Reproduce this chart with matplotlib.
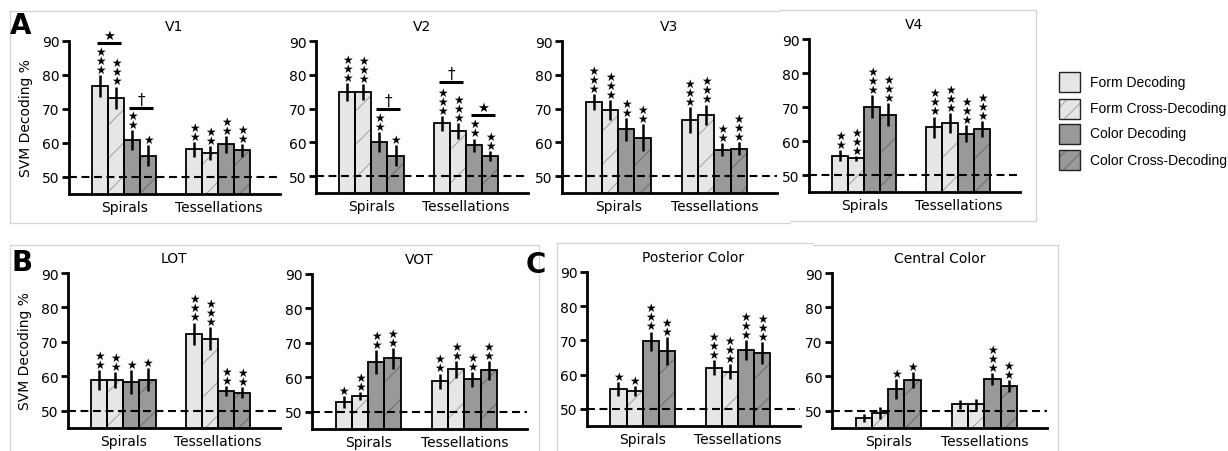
import numpy as np
import matplotlib.pyplot as plt
from matplotlib.lines import Line2D
from matplotlib.patches import Rectangle

plt.rcParams['font.family'] = 'DejaVu Sans'
plt.rcParams['hatch.linewidth'] = 0.8

W, H = 1228, 452

groups = ['Spirals', 'Tessellations']
conditions = ['Form Decoding', 'Form Cross-Decoding', 'Color Decoding', 'Color Cross-Decoding']

# order: spirals (form, form cross, color, color cross), tessellations (same)
v1_mean = [76.8, 73.3, 60.9, 56.3, 58.1, 57.1, 59.6, 57.8]
v1_err = [3.3, 3.3, 3.0, 3.0, 2.2, 2.0, 2.5, 1.8]
v1_stars = [3, 3, 2, 1, 2, 2, 2, 2]

v2_mean = [74.9, 74.9, 60.0, 56.1, 65.6, 63.4, 59.1, 55.9]
v2_err = [2.7, 2.3, 3.0, 3.0, 2.3, 2.3, 2.0, 1.5]
v2_stars = [3, 3, 2, 1, 3, 3, 2, 2]

v3_mean = [72.0, 69.5, 63.9, 61.4, 66.6, 68.2, 57.8, 58.1]
v3_err = [2.4, 3.0, 3.4, 3.9, 3.8, 3.0, 1.9, 1.9]
v3_stars = [3, 3, 2, 2, 3, 3, 2, 3]

v4_mean = [55.7, 54.9, 70.1, 67.7, 64.0, 65.3, 62.1, 63.5]
v4_err = [1.6, 0.8, 3.4, 3.4, 3.2, 2.8, 2.5, 2.4]
v4_stars = [2, 3, 3, 3, 3, 3, 3, 3]

lot_mean = [58.9, 58.9, 58.3, 59.0, 72.3, 70.9, 55.8, 55.3]
lot_err = [3.0, 2.4, 3.4, 3.3, 3.3, 3.3, 1.4, 1.5]
lot_stars = [2, 2, 1, 1, 3, 3, 2, 2]

vot_mean = [52.9, 54.5, 64.5, 65.5, 58.8, 62.3, 59.4, 62.0]
vot_err = [1.7, 1.1, 3.4, 3.0, 2.3, 2.4, 2.2, 2.8]
vot_stars = [1, 2, 2, 2, 2, 2, 2, 2]

post_mean = [55.9, 55.2, 69.8, 66.9, 62.0, 60.9, 67.2, 66.2]
post_err = [2.0, 1.5, 2.8, 4.1, 2.2, 2.1, 2.8, 3.2]
post_stars = [1, 1, 3, 2, 3, 3, 3, 3]

cent_mean = [47.9, 49.3, 56.3, 59.0, 51.9, 51.9, 59.2, 57.1]
cent_err = [1.2, 1.7, 3.0, 2.3, 1.3, 1.6, 1.7, 1.7]
cent_stars = [0, 0, 1, 1, 0, 0, 3, 2]

# pairwise comparisons: (bar a, bar b, height, symbol)
v1_comp = [(0, 1, 89.3, '★'), (2, 3, 70.3, '†')]
v2_comp = [(2, 3, 70.0, '†'), (4, 5, 77.8, '†'), (6, 7, 68.2, '★')]

face = ['#e6e6e6', '#e6e6e6', '#999999', '#999999']
hatch_col = ['#a8a8a8', '#a8a8a8', '#707070', '#707070']
hatched = [False, True, False, True]

# axes boxes in pixels: left, right, top, bottom
panels = [
    ('V1', v1_mean, v1_err, v1_stars, v1_comp, (69, 280, 42, 195), True),
    ('V2', v2_mean, v2_err, v2_stars, v2_comp, (316, 528, 42, 194), False),
    ('V3', v3_mean, v3_err, v3_stars, [], (562, 777, 42, 194), False),
    ('V4', v4_mean, v4_err, v4_stars, [], (809, 1020, 40, 193), False),
    ('LOT', lot_mean, lot_err, lot_stars, [], (68, 280, 274, 429), True),
    ('VOT', vot_mean, vot_err, vot_stars, [], (312, 527, 275, 430), False),
    ('Posterior Color', post_mean, post_err, post_stars, [], (587, 800, 273, 427), False),
    ('Central Color', cent_mean, cent_err, cent_stars, [], (832, 1047, 274, 429), False),
]

gap = 5.9
xpos = np.array([-1.5, -0.5, 0.5, 1.5, gap - 1.5, gap - 0.5, gap + 0.5, gap + 1.5])

fig = plt.figure(figsize=(W / 100, H / 100), dpi=100)


def fig_line(x0, y0, x1, y1):
    fig.add_artist(Line2D([x0 / W, x1 / W], [1 - y0 / H, 1 - y1 / H],
                          transform=fig.transFigure, color='#d4d4d4', lw=0.9, zorder=-5))


# panel frames
fig_line(10, 11.5, 779, 11.5)
fig_line(10, 11.5, 10, 224)
fig_line(10, 224, 790, 224)
fig_line(779, 11, 1036, 11)
fig_line(1036, 11, 1036, 222)
fig_line(790, 222, 1036, 222)
fig_line(10, 246, 539, 246)
fig_line(10, 246, 10, 452)
fig_line(539, 246, 539, 452)
fig_line(557, 244, 813, 244)
fig_line(813, 246, 1058, 246)
fig_line(557, 244, 557, 452)
fig_line(1058, 246, 1058, 452)

for title, mean, err, stars, comp, (l, r, t, b), ylab in panels:
    ax = fig.add_axes([l / W, 1 - b / H, (r - l) / W, (b - t) / H])
    ax.patch.set_alpha(0)
    for k in range(8):
        c = k % 4
        if hatched[c]:
            ax.bar(xpos[k], mean[k], width=1, color=face[c], edgecolor=hatch_col[c],
                   hatch='/', lw=0, zorder=2)
        else:
            ax.bar(xpos[k], mean[k], width=1, color=face[c], lw=0, zorder=2)
        ax.bar(xpos[k], mean[k], width=1, fill=False, edgecolor='black', lw=1.3, zorder=3)
        ax.errorbar(xpos[k], mean[k], yerr=err[k], fmt='none', ecolor='black',
                    elinewidth=1.8, capsize=0, zorder=4)
        if stars[k]:
            ax.annotate('\n'.join(['★'] * stars[k]), (xpos[k], mean[k] + err[k]),
                        xytext=(0, -0.6), textcoords='offset points', ha='center',
                        va='bottom', fontsize=8.5, linespacing=0.6)
    for a, bb, y, sym in comp:
        xa, xb = xpos[a] - 0.2, xpos[bb] + 0.3
        ax.plot([xa, xb], [y, y], color='black', lw=2.2, solid_capstyle='butt', zorder=5)
        ax.text((xa + xb) / 2, y + 0.3, sym, ha='center', va='bottom',
                fontsize=9.5 if sym == '★' else 11)
    ax.axhline(50, color='black', lw=1.5, dashes=(3.8, 2.2), zorder=6)
    ax.set_xlim(-3.45, 9.75)
    ax.set_ylim(45, 90)
    ax.set_yticks([50, 60, 70, 80, 90])
    ax.set_xticks([0, gap])
    ax.set_xticklabels(groups)
    ax.tick_params(axis='x', length=0, pad=4, labelsize=10)
    ax.tick_params(axis='y', length=5, width=2, pad=2, labelsize=10)
    for s in ['top', 'right']:
        ax.spines[s].set_visible(False)
    for s in ['left', 'bottom']:
        ax.spines[s].set_linewidth(2)
    ax.set_title(title, fontsize=10, pad=8)
    if ylab:
        ax.set_ylabel('SVM Decoding %', fontsize=10)
        ax.yaxis.set_label_coords(-0.17, 0.5)

# panel letters
fig.text(10 / W, 1 - 34 / H, 'A', fontsize=20, fontweight='bold')
fig.text(12 / W, 1 - 271 / H, 'B', fontsize=20, fontweight='bold')
fig.text(526 / W, 1 - 273 / H, 'C', fontsize=20, fontweight='bold')

# legend
leg_y = [83, 109.5, 134.5, 160.5]
for c, (name, yc) in enumerate(zip(conditions, leg_y)):
    x0, w, h = 1059, 21, 20
    rect = dict(transform=fig.transFigure, zorder=5)
    if hatched[c]:
        fig.add_artist(Rectangle((x0 / W, 1 - (yc + h / 2) / H), w / W, h / H,
                                 facecolor=face[c], edgecolor=hatch_col[c], hatch='//', lw=0, **rect))
    else:
        fig.add_artist(Rectangle((x0 / W, 1 - (yc + h / 2) / H), w / W, h / H,
                                 facecolor=face[c], lw=0, **rect))
    fig.add_artist(Rectangle((x0 / W, 1 - (yc + h / 2) / H), w / W, h / H,
                             fill=False, edgecolor='#222222', lw=1.0, **rect))
    fig.text(1090 / W, 1 - yc / H, name, fontsize=10, family='Liberation Sans', va='center')

fig.savefig('out.png', dpi=100)
